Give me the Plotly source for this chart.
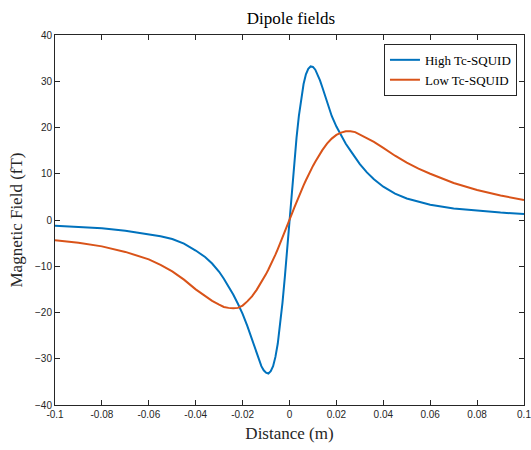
import plotly.graph_objects as go

# Field profiles across the sensor line (distance in m, field in fT)
distance = [-0.100, -0.090, -0.080, -0.070, -0.060, -0.055, -0.050, -0.045, -0.040, -0.036,
            -0.033, -0.030, -0.028, -0.026, -0.024, -0.022, -0.020, -0.018, -0.016, -0.014,
            -0.013, -0.012, -0.011, -0.010, -0.009, -0.008, -0.007, -0.006, -0.005, -0.004,
            -0.003, -0.002, -0.001, 0.000, 0.001, 0.002, 0.003, 0.004, 0.005, 0.006,
            0.007, 0.008, 0.009, 0.010, 0.011, 0.012, 0.013, 0.014, 0.016, 0.018,
            0.020, 0.022, 0.024, 0.026, 0.028, 0.030, 0.033, 0.036, 0.040, 0.045,
            0.050, 0.055, 0.060, 0.070, 0.080, 0.090, 0.100]

high_tc = [-1.25, -1.5, -1.8, -2.3, -3.0, -3.5, -4.1, -5.1, -6.6, -8.0,
           -9.4, -11.2, -12.7, -14.3, -16.1, -18.1, -20.3, -22.9, -25.9, -29.0,
           -30.4, -31.6, -32.5, -33.0, -33.2, -32.7, -31.6, -29.6, -26.7, -22.7,
           -17.9, -12.4, -6.3, 0.0, 6.3, 12.3, 17.8, 22.5, 26.4, 29.4,
           31.5, 32.7, 33.2, 33.1, 32.5, 31.5, 30.2, 28.7, 25.4, 22.5,
           20.2, 18.2, 16.5, 15.0, 13.5, 12.1, 10.3, 8.8, 7.2, 5.7,
           4.65, 3.9, 3.3, 2.5, 2.0, 1.6, 1.3]

low_tc = [-4.4, -4.9, -5.7, -6.9, -8.5, -9.7, -11.1, -12.9, -15.0, -16.5,
          -17.5, -18.3, -18.8, -19.0, -19.1, -19.0, -18.5, -17.6, -16.5, -15.1,
          -14.3, -13.5, -12.6, -11.7, -10.7, -9.7, -8.6, -7.5, -6.3, -5.1,
          -3.9, -2.6, -1.3, 0.0, 1.3, 2.6, 3.9, 5.1, 6.3, 7.5,
          8.6, 9.7, 10.7, 11.7, 12.6, 13.5, 14.3, 15.1, 16.5, 17.6,
          18.4, 18.9, 19.2, 19.2, 19.0, 18.5, 17.7, 16.9, 15.6, 13.9,
          12.4, 11.1, 10.0, 8.0, 6.5, 5.3, 4.3]

x_ticks = [-0.1, -0.08, -0.06, -0.04, -0.02, 0, 0.02, 0.04, 0.06, 0.08, 0.1]
x_tick_text = ["-0.1", "-0.08", "-0.06", "-0.04", "-0.02", "0", "0.02", "0.04", "0.06", "0.08", "0.1"]
y_ticks = [-40, -30, -20, -10, 0, 10, 20, 30, 40]

serif = "Liberation Serif, Times New Roman, serif"
sans = "Liberation Sans, Arial, Helvetica, sans-serif"
axis_col = "#262626"

fig = go.Figure()
fig.add_trace(go.Scatter(x=distance, y=high_tc, mode="lines", name="High Tc-SQUID",
                         line=dict(color="#0072BD", width=2)))
fig.add_trace(go.Scatter(x=distance, y=low_tc, mode="lines", name="Low Tc-SQUID",
                         line=dict(color="#D95319", width=2)))

axis_common = dict(showline=True, linecolor=axis_col, linewidth=1, mirror="ticks",
                   ticks="inside", ticklen=5, tickcolor=axis_col, tickwidth=1,
                   showgrid=False, zeroline=False, ticklabeloverflow="allow",
                   automargin=False,
                   tickfont=dict(family=sans, size=10, color=axis_col))

fig.update_xaxes(range=[-0.1, 0.1], tickvals=x_ticks, ticktext=x_tick_text,
                 title=dict(text="Distance (m)", font=dict(family=serif, size=17, color=axis_col),
                            standoff=8),
                 **axis_common)
fig.update_yaxes(range=[-40, 40], tickvals=y_ticks,
                 title=dict(text="Magnetic Field (fT)", font=dict(family=serif, size=17, color=axis_col),
                            standoff=8),
                 **axis_common)

fig.update_layout(
    width=531, height=450,
    margin=dict(l=55, r=7, t=35, b=45),
    paper_bgcolor="white", plot_bgcolor="white",
    title=dict(text="Dipole fields", x=0.548, xanchor="center", y=0.96, yanchor="middle",
               font=dict(family=serif, size=17, color="black")),
    legend=dict(x=0.985, y=0.976, xanchor="right", yanchor="top",
                bgcolor="white", bordercolor=axis_col, borderwidth=1,
                font=dict(family=serif, size=13, color="black"),
                itemwidth=30, tracegroupgap=0),
    showlegend=True,
)

fig.write_html("out.html")
